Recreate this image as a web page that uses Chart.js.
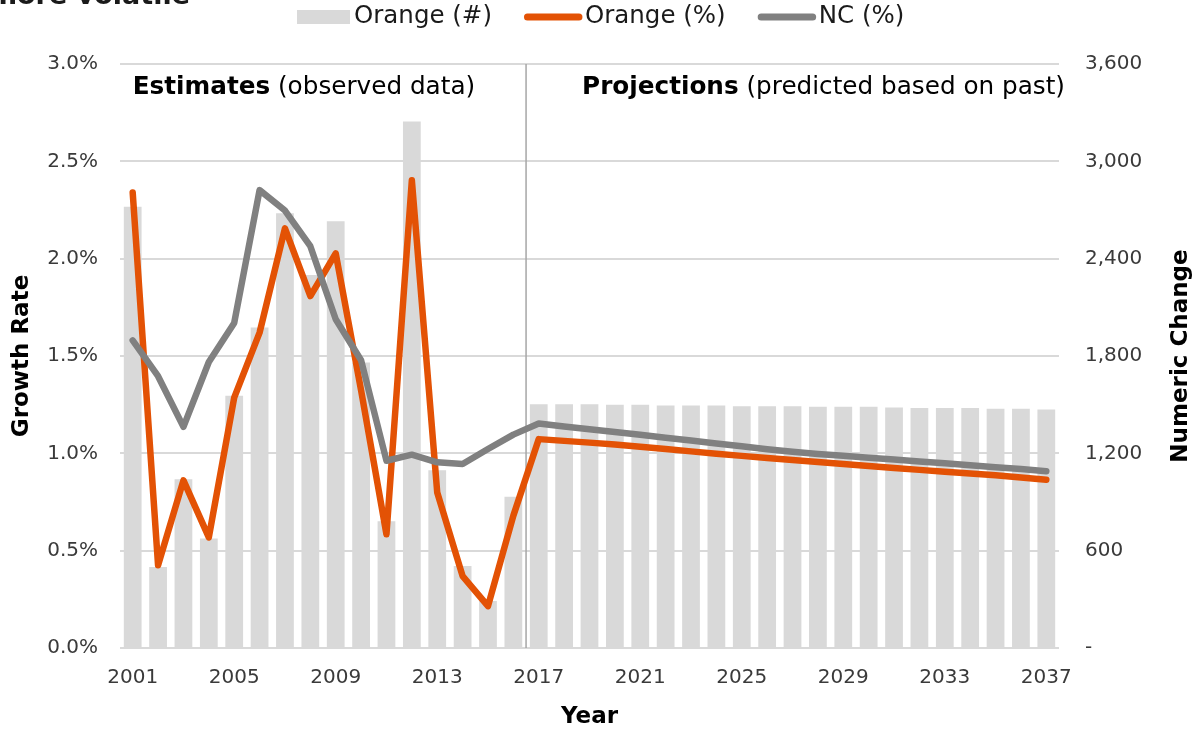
<!DOCTYPE html>
<html>
<head>
<meta charset="utf-8">
<script src="https://cdn.jsdelivr.net/npm/chart.js@4.4.1/dist/chart.umd.min.js"></script>
<style>
  html, body { margin: 0; padding: 0; background: #ffffff; }
  #wrap { width: 1200px; height: 733px; position: relative; }
</style>
</head>
<body>
<div id="wrap"><canvas id="growth" width="1200" height="733"></canvas></div>
<script>
// Years on the horizontal axis (estimates through 2016, projections from 2017)
const years = ['2001','2002','2003','2004','2005','2006','2007','2008','2009','2010',
  '2011','2012','2013','2014','2015','2016','2017','2018','2019','2020',
  '2021','2022','2023','2024','2025','2026','2027','2028','2029','2030',
  '2031','2032','2033','2034','2035','2036','2037'];

// Orange County numeric change (people added per year)
const orangeNumeric = [2720, 500, 1040, 675, 1555, 1975, 2680, 2300, 2630, 1760,
  782, 3245, 1095, 505, 290, 932, 1503, 1503, 1503, 1499, 1499, 1495, 1495, 1495,
  1491, 1491, 1491, 1487, 1487, 1487, 1483, 1479, 1479, 1479, 1475, 1475, 1470];

// Orange County annual growth rate (%)
const orangePct = [2.34, 0.425, 0.861, 0.568, 1.286, 1.62, 2.156, 1.808, 2.027, 1.323,
  0.584, 2.403, 0.799, 0.369, 0.215, 0.68, 1.073, 1.064, 1.055, 1.045, 1.034, 1.022,
  1.010, 0.998, 0.987, 0.976, 0.966, 0.955, 0.945, 0.935, 0.925, 0.915, 0.905, 0.896,
  0.887, 0.876, 0.864];

// North Carolina annual growth rate (%)
const ncPct = [1.58, 1.396, 1.136, 1.469, 1.670, 2.352, 2.247, 2.064, 1.689, 1.478,
  0.962, 0.993, 0.954, 0.945, 1.022, 1.096, 1.153, 1.138, 1.124, 1.110, 1.095, 1.080,
  1.066, 1.051, 1.036, 1.021, 1.008, 0.997, 0.987, 0.977, 0.968, 0.958, 0.949, 0.939,
  0.929, 0.919, 0.908];

// Axis tick settings
const pctTicks = { min: 0, max: 3.0, step: 0.5 };
const numTicks = { min: 0, max: 3600, step: 600 };
const lastEstimateIndex = 15; // 2016

const FONT = '"DejaVu Sans", "Noto Sans", sans-serif';
const TEXT = '#1a1a1a';
const TICK = '#3a3a3a';
const GRID = '#d9d9d9';
const BAR = '#d9d9d9';
const ORANGE = '#e35205';
const GREY = '#808080';

// Vertical rule between estimates and projections
const dividerPlugin = {
  id: 'divider',
  beforeDatasetsDraw(chart) {
    const { ctx, chartArea, scales } = chart;
    const x = (scales.x.getPixelForValue(lastEstimateIndex) + scales.x.getPixelForValue(lastEstimateIndex + 1)) / 2;
    ctx.save();
    ctx.strokeStyle = '#a6a6a6';
    ctx.lineWidth = 1.5;
    ctx.beginPath();
    ctx.moveTo(x, chartArea.top);
    ctx.lineTo(x, chartArea.bottom);
    ctx.stroke();
    ctx.restore();
  }
};

// Headline, legend, section labels and right axis title
const overlayPlugin = {
  id: 'overlay',
  afterDraw(chart) {
    const { ctx, chartArea, scales } = chart;
    ctx.save();

    // headline (runs above the top edge)
    ctx.fillStyle = TEXT;
    ctx.font = 'bold 27px ' + FONT;
    ctx.textAlign = 'right';
    ctx.textBaseline = 'alphabetic';
    ctx.fillText('more volatile', 190, 4);

    // section labels
    const SEC = 24.7;
    const drawPair = (bold, regular, x, y, align) => {
      ctx.textBaseline = 'middle';
      ctx.textAlign = 'left';
      ctx.font = 'bold ' + SEC + 'px ' + FONT;
      const wb = ctx.measureText(bold).width;
      ctx.font = SEC + 'px ' + FONT;
      const wr = ctx.measureText(regular).width;
      const start = align === 'right' ? x - wb - wr : x;
      ctx.fillStyle = '#000';
      ctx.font = 'bold ' + SEC + 'px ' + FONT;
      ctx.fillText(bold, start, y);
      ctx.font = SEC + 'px ' + FONT;
      ctx.fillText(regular, start + wb, y);
    };
    drawPair('Estimates', ' (observed data)', scales.x.getPixelForValue(0), 88, 'left');
    drawPair('Projections', ' (predicted based on past)', chartArea.right + 6, 88, 'right');

    // legend
    ctx.font = '24.5px ' + FONT;
    ctx.textBaseline = 'middle';
    ctx.textAlign = 'left';
    const ly = 17;
    let x = 297;
    ctx.fillStyle = BAR;
    ctx.fillRect(x, 10, 53, 14);
    x += 57;
    ctx.fillStyle = TEXT;
    ctx.fillText('Orange (#)', x, ly);
    x += ctx.measureText('Orange (#)').width + 32;
    const lineKey = (color, label) => {
      ctx.strokeStyle = color;
      ctx.lineWidth = 7;
      ctx.lineCap = 'round';
      ctx.beginPath();
      ctx.moveTo(x + 3.5, ly);
      ctx.lineTo(x + 55, ly);
      ctx.stroke();
      x += 61;
      ctx.fillStyle = TEXT;
      ctx.fillText(label, x, ly);
      x += ctx.measureText(label).width + 32;
    };
    lineKey(ORANGE, 'Orange (%)');
    lineKey(GREY, 'NC (%)');

    // right axis title, reading bottom to top
    ctx.save();
    ctx.translate(1181, (chartArea.top + chartArea.bottom) / 2);
    ctx.rotate(-Math.PI / 2);
    ctx.font = 'bold 23px ' + FONT;
    ctx.fillStyle = '#000';
    ctx.textAlign = 'center';
    ctx.textBaseline = 'middle';
    ctx.fillText('Numeric Change', 0, 0);
    ctx.restore();

    ctx.restore();
  }
};

new Chart(document.getElementById('growth'), {
  data: {
    labels: years,
    datasets: [
      {
        type: 'line', label: 'NC (%)', data: ncPct, yAxisID: 'yPct', order: 1,
        borderColor: GREY, borderWidth: 6.5, pointRadius: 0, tension: 0,
        borderCapStyle: 'round', borderJoinStyle: 'round'
      },
      {
        type: 'line', label: 'Orange (%)', data: orangePct, yAxisID: 'yPct', order: 2,
        borderColor: ORANGE, borderWidth: 6.5, pointRadius: 0, tension: 0,
        borderCapStyle: 'round', borderJoinStyle: 'round'
      },
      {
        type: 'bar', label: 'Orange (#)', data: orangeNumeric, yAxisID: 'yNum', order: 3,
        backgroundColor: BAR, borderWidth: 0, barPercentage: 0.7, categoryPercentage: 1.0
      }
    ]
  },
  options: {
    responsive: false,
    animation: false,
    devicePixelRatio: 1,
    layout: { padding: { top: 64, left: 0, right: 0, bottom: 2 } },
    plugins: { legend: { display: false }, tooltip: { enabled: false }, title: { display: false } },
    scales: {
      x: {
        offset: true,
        grid: { display: false, drawTicks: false },
        border: { display: false },
        ticks: {
          autoSkip: false, maxRotation: 0, padding: 18, color: TICK,
          font: { family: FONT, size: 20 },
          callback: (v, i) => (i % 4 === 0 ? years[i] : '')
        },
        title: { display: true, text: 'Year', color: '#000', font: { family: FONT, size: 23, weight: 'bold' }, padding: { top: 0, bottom: 0 } },
        afterFit(scale) { scale.height = 83; }
      },
      yPct: {
        position: 'left', min: pctTicks.min, max: pctTicks.max,
        grid: { color: GRID, lineWidth: 2, drawTicks: false },
        border: { display: false },
        ticks: {
          stepSize: pctTicks.step, padding: 22, color: TICK,
          font: { family: FONT, size: 20 },
          callback: v => v.toFixed(1) + '%'
        },
        title: { display: true, text: 'Growth Rate', color: '#000', font: { family: FONT, size: 23, weight: 'bold' }, padding: { top: 8, bottom: 0 } },
        afterFit(scale) { scale.width = 120; }
      },
      yNum: {
        position: 'right', min: numTicks.min, max: numTicks.max,
        grid: { display: false, drawTicks: false },
        border: { display: false },
        ticks: {
          stepSize: numTicks.step, padding: 26, color: TICK,
          font: { family: FONT, size: 20 },
          callback: v => (v === 0 ? '-' : v.toLocaleString('en-US'))
        },
        afterFit(scale) { scale.width = 141; }
      }
    }
  },
  plugins: [dividerPlugin, overlayPlugin]
});
</script>
</body>
</html>
